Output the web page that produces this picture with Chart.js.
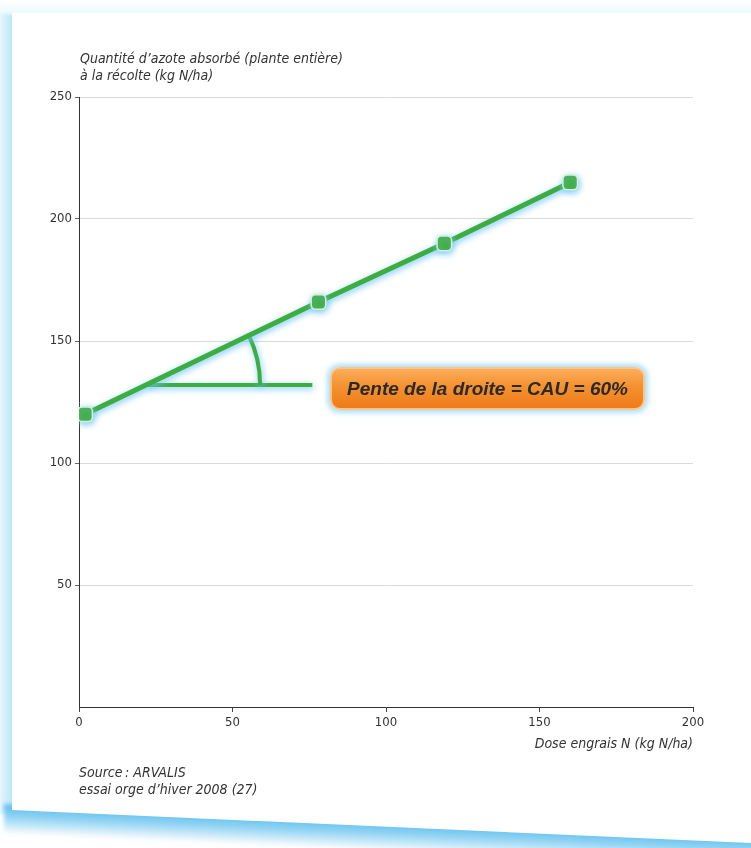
<!DOCTYPE html>
<html>
<head>
<meta charset="utf-8">
<script src="https://cdn.jsdelivr.net/npm/chart.js@4.4.1/dist/chart.umd.min.js"></script>
<style>
  html, body { margin: 0; padding: 0; background: #f3fbfe; }
  #page { position: relative; width: 751px; height: 848px; overflow: hidden; background: #fff; }
  .topband { position: absolute; left: 0; top: 0; width: 751px; height: 14px; background: linear-gradient(#ffffff, #eafafe); }
  .leftstrip { position: absolute; left: 0; top: 14px; width: 14px; height: 800px;
    background: linear-gradient(to right, #e2f5fd, #b9e4f8); filter: blur(1px); }
  .bottomband { position: absolute; left: 4px; top: 804px; width: 770px; height: 30px;
    transform-origin: left top; transform: skewY(2.55deg);
    background: linear-gradient(to bottom, #58bdee, #8fd2f3 40%, rgba(220,242,253,0)); filter: blur(2px); }
  .card { position: absolute; left: 0; top: 0; width: 751px; height: 848px; background: #fff;
    clip-path: polygon(12px 13px, 751px 13px, 751px 843px, 12px 810px); }
  #wrap { position: absolute; left: 0; top: 0; width: 751px; height: 848px; }
  .pente { position: absolute; left: 330px; top: 367px; width: 311px; height: 39px;
    border-radius: 10px; border: 2px solid #fcc585;
    background: linear-gradient(#fbad5c, #f4912f 45%, #ef7b1a);
    box-shadow: 0 0 5px 3px rgba(160, 218, 250, 0.85);
    font: italic bold 19px "Liberation Sans", Arial, sans-serif; color: #2a2a2a;
    text-align: center; line-height: 39px; }
</style>
</head>
<body>
<div id="page">
  <div class="topband"></div>
  <div class="leftstrip"></div>
  <div class="bottomband"></div>
  <div class="card"></div>
  <div id="wrap"><canvas id="myChart" width="751" height="848"></canvas></div>
  <div class="pente">Pente de la droite = CAU = 60%</div>
</div>
<script>
// valeurs
const doses = [2, 78, 119, 160];
const azoteAbsorbe = [120, 166, 190, 215];
const xTicks = [0, 50, 100, 150, 200];
const yTicks = [50, 100, 150, 200, 250];
const yTitle = ["Quantité d\u2019azote absorbé (plante entière)", "à la récolte (kg N/ha)"];
const xTitle = "Dose engrais N (kg N/ha)";
const sourceLines = ["Source\u202F: ARVALIS", "essai orge d\u2019hiver 2008 (27)"];
// angle de la pente : coin, fin du trait horizontal, rayon de l'arc (unités de x)
const angleCorner = { x: 22, y: 132 };
const angleEndX = 76;
const arcRadiusX = 37;

const narrow = '"Liberation Sans Narrow", "DejaVu Sans Condensed", Arial, sans-serif';
const green = '#3cae3f';

const glowPlugin = {
  id: 'glow',
  beforeDatasetDraw(chart) {
    const ctx = chart.ctx;
    ctx.save();
    ctx.shadowColor = 'rgba(110, 195, 255, 0.95)';
    ctx.shadowBlur = 6;
    ctx.shadowOffsetX = 1;
    ctx.shadowOffsetY = 2;
  },
  afterDatasetDraw(chart) {
    chart.ctx.restore();
  }
};

const anglePlugin = {
  id: 'angle',
  beforeDatasetsDraw(chart) {
    const ctx = chart.ctx;
    const xs = chart.scales.x, ys = chart.scales.y;
    const cx = xs.getPixelForValue(angleCorner.x);
    const cy = ys.getPixelForValue(angleCorner.y);
    const r = xs.getPixelForValue(angleCorner.x + arcRadiusX) - cx;
    const meta = chart.getDatasetMeta(0).data;
    const a = Math.atan2(meta[3].y - meta[0].y, meta[3].x - meta[0].x);
    ctx.save();
    ctx.shadowColor = 'rgba(110, 195, 255, 0.95)';
    ctx.shadowBlur = 6;
    ctx.shadowOffsetX = 1;
    ctx.shadowOffsetY = 2;
    ctx.strokeStyle = green;
    ctx.lineWidth = 4;
    ctx.beginPath();
    ctx.moveTo(cx, cy);
    ctx.lineTo(xs.getPixelForValue(angleEndX), cy);
    ctx.stroke();
    ctx.beginPath();
    ctx.arc(cx, cy, r, a, 0);
    ctx.stroke();
    ctx.restore();
  }
};

const textPlugin = {
  id: 'texts',
  afterDraw(chart) {
    const ctx = chart.ctx;
    const area = chart.chartArea;
    ctx.save();
    ctx.fillStyle = '#333';
    ctx.font = 'italic 14px ' + narrow;
    ctx.textBaseline = 'middle';
    ctx.textAlign = 'left';
    ctx.fillText(yTitle[0], area.left + 1, area.top - 38);
    ctx.fillText(yTitle[1], area.left + 1, area.top - 21);
    ctx.textAlign = 'right';
    ctx.fillText(xTitle, area.right, area.bottom + 37);
    ctx.textAlign = 'left';
    ctx.fillText(sourceLines[0], area.left, area.bottom + 66);
    ctx.fillText(sourceLines[1], area.left, area.bottom + 83);
    ctx.restore();
  }
};

const ctx = document.getElementById('myChart');
new Chart(ctx, {
  type: 'line',
  data: {
    datasets: [{
      data: doses.map((d, i) => ({ x: d, y: azoteAbsorbe[i] })),
      borderColor: green,
      borderWidth: 5,
      tension: 0,
      pointStyle: 'rectRounded',
      pointRadius: 8.5,
      pointBackgroundColor: '#41ad3e',
      pointBorderColor: '#d4f2cf',
      pointBorderWidth: 1.5
    }]
  },
  options: {
    responsive: false,
    animation: false,
    layout: { padding: { left: 0, right: 58, top: 97, bottom: 111 } },
    scales: {
      x: {
        type: 'linear',
        min: 0,
        max: 200,
        afterFit: s => { s.height = 30; },
        afterBuildTicks: s => { s.ticks = xTicks.map(v => ({ value: v })); },
        grid: { drawOnChartArea: false, tickLength: 5, tickColor: '#444' },
        border: { color: '#333', width: 1 },
        ticks: { color: '#333', padding: 3, maxRotation: 0, font: { family: narrow, size: 13 } }
      },
      y: {
        min: 0,
        max: 250,
        afterFit: s => { s.width = 79; },
        afterBuildTicks: s => { s.ticks = yTicks.map(v => ({ value: v })); },
        grid: { color: '#dadada', lineWidth: 1, tickLength: 4, tickColor: '#666' },
        border: { color: '#333', width: 1 },
        ticks: { color: '#333', padding: 3, font: { family: narrow, size: 13 } }
      }
    },
    plugins: { legend: { display: false }, tooltip: { enabled: false } }
  },
  plugins: [glowPlugin, anglePlugin, textPlugin]
});
</script>
</body>
</html>
